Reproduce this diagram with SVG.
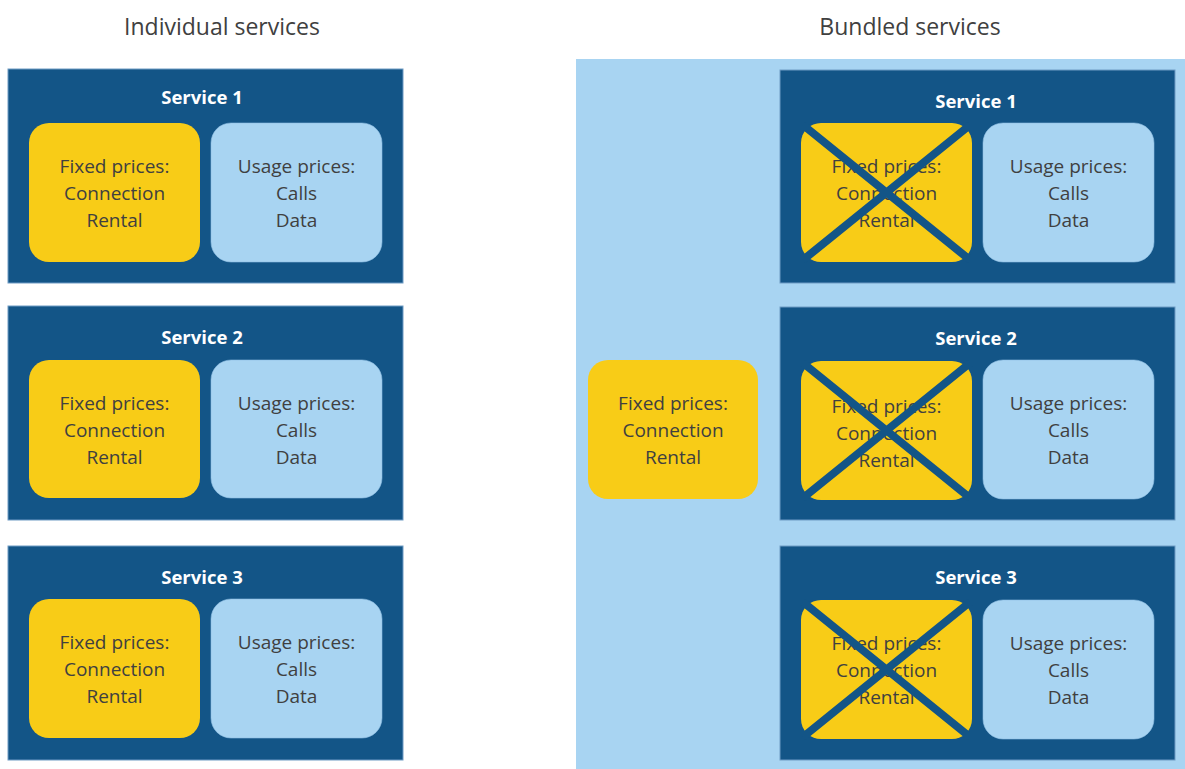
<svg xmlns="http://www.w3.org/2000/svg" width="1185" height="769" viewBox="0 0 1185 769">
<style>
.title{font-family:"Open Sans","Liberation Sans",sans-serif;font-size:23px;fill:#404040;text-anchor:middle}
.svc{fill:#135587;stroke:#6f9bc4;stroke-width:1}
.lbl{font-family:"Open Sans","Liberation Sans",sans-serif;font-size:18.5px;font-weight:bold;fill:#ffffff;text-anchor:middle}
.fix{fill:#f8cc17}
.use{fill:#a8d4f2;stroke:#8fbde3;stroke-width:0.6}
.txt{font-family:"Open Sans","Liberation Sans",sans-serif;font-size:19px;fill:#404040;text-anchor:middle}
.x{stroke:#135587;stroke-width:8;fill:none}
</style>
<rect width="1185" height="769" fill="#ffffff"/>
<text class="title" x="222" y="35">Individual services</text>
<text class="title" x="910" y="35">Bundled services</text>
<rect id="bundle-panel" x="576" y="59" width="609" height="710" fill="#a8d4f2"/>

<g id="ind-service1">
<rect class="svc" x="8" y="69" width="395" height="214"/>
<text class="lbl" x="202" y="104">Service 1</text>
<rect class="fix" x="29" y="123" width="171" height="139" rx="20"/>
<text class="txt" x="114.5" y="173">Fixed prices:</text>
<text class="txt" x="114.5" y="200">Connection</text>
<text class="txt" x="114.5" y="227">Rental</text>
<rect class="use" x="211" y="123" width="171" height="139" rx="20"/>
<text class="txt" x="296.5" y="173">Usage prices:</text>
<text class="txt" x="296.5" y="200">Calls</text>
<text class="txt" x="296.5" y="227">Data</text>
</g>

<g id="ind-service2">
<rect class="svc" x="8" y="306" width="395" height="214"/>
<text class="lbl" x="202" y="344">Service 2</text>
<rect class="fix" x="29" y="360" width="171" height="138" rx="20"/>
<text class="txt" x="114.5" y="410">Fixed prices:</text>
<text class="txt" x="114.5" y="437">Connection</text>
<text class="txt" x="114.5" y="464">Rental</text>
<rect class="use" x="211" y="360" width="171" height="138" rx="20"/>
<text class="txt" x="296.5" y="410">Usage prices:</text>
<text class="txt" x="296.5" y="437">Calls</text>
<text class="txt" x="296.5" y="464">Data</text>
</g>

<g id="ind-service3">
<rect class="svc" x="8" y="546" width="395" height="214"/>
<text class="lbl" x="202" y="584">Service 3</text>
<rect class="fix" x="29" y="599" width="171" height="139" rx="20"/>
<text class="txt" x="114.5" y="649">Fixed prices:</text>
<text class="txt" x="114.5" y="676">Connection</text>
<text class="txt" x="114.5" y="703">Rental</text>
<rect class="use" x="211" y="599" width="171" height="139" rx="20"/>
<text class="txt" x="296.5" y="649">Usage prices:</text>
<text class="txt" x="296.5" y="676">Calls</text>
<text class="txt" x="296.5" y="703">Data</text>
</g>

<g id="bundled-fixed">
<rect class="fix" x="588" y="360" width="170" height="139" rx="20"/>
<text class="txt" x="673" y="410">Fixed prices:</text>
<text class="txt" x="673" y="437">Connection</text>
<text class="txt" x="673" y="464">Rental</text>
</g>

<g id="bun-service1">
<rect class="svc" x="780" y="70" width="395" height="213"/>
<text class="lbl" x="976" y="108">Service 1</text>
<rect class="fix" x="801" y="123" width="171" height="139" rx="20"/>
<text class="txt" x="886.5" y="173">Fixed prices:</text>
<text class="txt" x="886.5" y="200">Connection</text>
<text class="txt" x="886.5" y="227">Rental</text>
<path class="x" d="M803,125 L970,260 M970,125 L803,260"/>
<rect class="use" x="983" y="123" width="171" height="139" rx="20"/>
<text class="txt" x="1068.5" y="173">Usage prices:</text>
<text class="txt" x="1068.5" y="200">Calls</text>
<text class="txt" x="1068.5" y="227">Data</text>
</g>

<g id="bun-service2">
<rect class="svc" x="780" y="307" width="395" height="213"/>
<text class="lbl" x="976" y="345">Service 2</text>
<rect class="fix" x="801" y="361" width="171" height="139" rx="20"/>
<text class="txt" x="886.5" y="413">Fixed prices:</text>
<text class="txt" x="886.5" y="440">Connection</text>
<text class="txt" x="886.5" y="467">Rental</text>
<path class="x" d="M803,363 L970,498 M970,363 L803,498"/>
<rect class="use" x="983" y="360" width="171" height="139" rx="20"/>
<text class="txt" x="1068.5" y="410">Usage prices:</text>
<text class="txt" x="1068.5" y="437">Calls</text>
<text class="txt" x="1068.5" y="464">Data</text>
</g>

<g id="bun-service3">
<rect class="svc" x="780" y="546" width="395" height="214"/>
<text class="lbl" x="976" y="584">Service 3</text>
<rect class="fix" x="801" y="600" width="171" height="139" rx="20"/>
<text class="txt" x="886.5" y="650">Fixed prices:</text>
<text class="txt" x="886.5" y="677">Connection</text>
<text class="txt" x="886.5" y="704">Rental</text>
<path class="x" d="M803,602 L970,737 M970,602 L803,737"/>
<rect class="use" x="983" y="600" width="171" height="139" rx="20"/>
<text class="txt" x="1068.5" y="650">Usage prices:</text>
<text class="txt" x="1068.5" y="677">Calls</text>
<text class="txt" x="1068.5" y="704">Data</text>
</g>

<g id="connectors"></g>
</svg>
